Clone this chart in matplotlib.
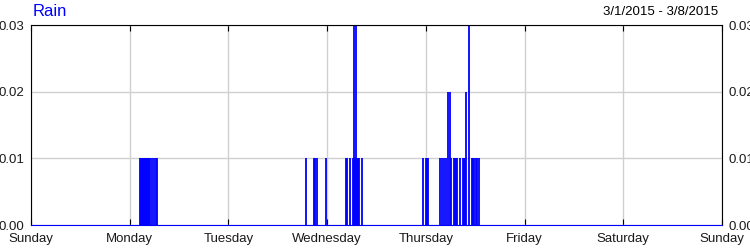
import matplotlib
matplotlib.use("Agg")
import matplotlib.pyplot as plt
import numpy as np

plt.rcParams['font.family'] = ['Liberation Sans Narrow', 'Liberation Sans', 'DejaVu Sans']

# rain readings, hours since Sunday 3/1/2015 00:00
hours_mon = [26.5, 26.75, 27.0, 27.25, 27.5, 27.75, 28.0, 28.25, 28.5, 28.75, 29.0,
             29.5, 30.0, 30.5, 30.75]
rain_mon = [0.01] * 15

hours_wed = [66.75, 68.75, 69.0, 69.5, 71.75, 76.5, 76.75, 77.5, 78.25, 78.5, 78.75,
             79.0, 79.25, 79.5, 79.75, 80.5]
rain_wed = [0.01, 0.01, 0.01, 0.01, 0.01, 0.01, 0.01, 0.01, 0.01, 0.03, 0.01,
            0.03, 0.01, 0.01, 0.01, 0.01]

hours_thu = [95.25, 96.0, 96.25, 96.5, 99.5, 100.0, 100.5, 101.0, 101.5, 101.75, 102.0,
             102.75, 103.0, 103.25, 103.5, 104.25, 105.0, 105.25, 105.5, 105.75, 106.5,
             107.25, 107.5, 107.75, 108.25, 108.5, 109.0]
rain_thu = [0.01, 0.01, 0.01, 0.01, 0.01, 0.01, 0.01, 0.01, 0.02, 0.02, 0.01,
            0.01, 0.01, 0.01, 0.01, 0.01, 0.01, 0.01, 0.01, 0.02, 0.03,
            0.01, 0.01, 0.01, 0.01, 0.01, 0.01]

hours = np.array(hours_mon + hours_wed + hours_thu)
rain = np.array(rain_mon + rain_wed + rain_thu)

day_names = ["Sunday", "Monday", "Tuesday", "Wednesday", "Thursday", "Friday", "Saturday", "Sunday"]
day_ticks = [0, 24, 48, 72, 96, 120, 144, 168]
y_ticks = [0.00, 0.01, 0.02, 0.03]

fig = plt.figure(figsize=(7.5, 2.5), dpi=100)
ax = fig.add_axes([31/750, 0.1, 691/750, 0.8])

ax.vlines(hours, 0, rain, color='blue', linewidth=1.3)

ax.set_xlim(0, 168)
ax.set_ylim(0, 0.03)
ax.set_xticks(day_ticks)
ax.set_xticklabels(day_names)
ax.set_yticks(y_ticks)
ax.set_yticklabels(["%.2f" % v for v in y_ticks])
ax.grid(True, color='#d0d0d0', linewidth=1)
ax.set_axisbelow(True)

ax.tick_params(axis='x', direction='in', length=4, top=True, bottom=True,
               labelsize=9.5, labelcolor='#1a1a1a', pad=6, color='black')
ax.tick_params(axis='y', length=0, left=True, right=True, labelleft=True,
               labelright=True, labelsize=9.5, labelcolor='#1a1a1a', pad=5)

for s in ['top', 'left', 'right']:
    ax.spines[s].set_color('black')
ax.spines['bottom'].set_color('blue')

fig.text(33/750, 1 - 4/250, "Rain", color='blue', fontsize=12, va='top', ha='left')
fig.text(718/750, 1 - 6/250, "3/1/2015 - 3/8/2015", color='black', fontsize=9.5,
         va='top', ha='right')

fig.savefig("out.png", dpi=100)
